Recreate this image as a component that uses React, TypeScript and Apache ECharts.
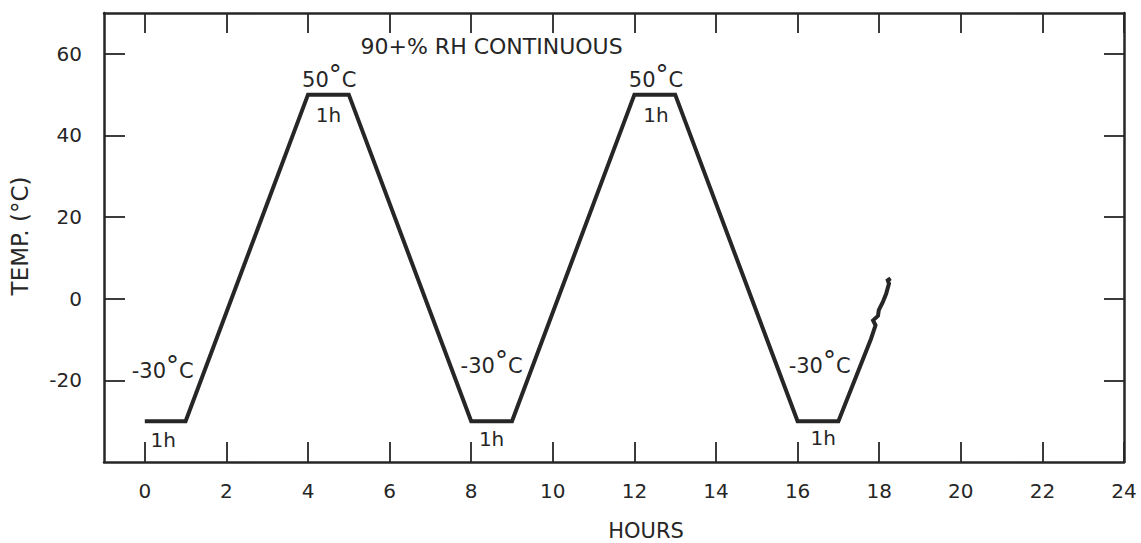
import React, { useEffect, useRef } from "react";
import * as echarts from "echarts";

const hours = [0, 1, 4, 5, 8, 9, 12, 13, 16, 17, 17.8, 17.91, 17.85, 17.97, 17.99, 18.09, 18.17, 18.24, 18.21, 18.28];
const temps = [-30, -30, 50, 50, -30, -30, 50, 50, -30, -30, -9.8, -6.5, -5.3, -4.2, -2.8, -0.8, 1.2, 3.7, 4.5, 5.0];

const xTicks = [0, 2, 4, 6, 8, 10, 12, 14, 16, 18, 20, 22, 24];
const yTicks = [-20, 0, 20, 40, 60];

const noteTexts = ["90+% RH CONTINUOUS", "50{d|°}C", "1h", "50{d|°}C", "1h", "-30{d|°}C", "1h", "-30{d|°}C", "1h", "-30{d|°}C", "1h"];
const noteSizes = [22, 21, 20, 21, 20, 21, 20, 21, 20, 21, 20];
const noteX = [8.5, 4.52, 4.5, 12.53, 12.53, 0.44, 0.45, 8.5, 8.5, 16.54, 16.63];
const noteY = [61.7, 53.7, 45.1, 53.7, 45.1, -17.6, -34.6, -16.6, -34.4, -16.6, -34.0];

const INK = "#262626";
const FONT = "DejaVu Sans";

export default function App() {
  const ref = useRef<HTMLDivElement>(null);
  useEffect(() => {
    if (!ref.current) return;
    const chart = echarts.init(ref.current, undefined, { renderer: "svg" });
    const axisLine = { show: true, onZero: false, lineStyle: { color: INK, width: 2.5 } };
    const tickStyle = { color: INK, width: 1.8 };
    chart.setOption({
      animation: false,
      backgroundColor: "#ffffff",
      grid: { left: 104, top: 13, right: 17, bottom: 81, containLabel: false },
      xAxis: [
        {
          type: "value",
          min: -1,
          max: 24,
          position: "bottom",
          axisLine,
          splitLine: { show: false },
          axisTick: { show: true, inside: true, length: 20, customValues: xTicks, lineStyle: tickStyle },
          axisLabel: { show: true, customValues: xTicks, margin: 19, color: INK, fontSize: 20, fontFamily: FONT },
        },
        {
          type: "value",
          min: -1,
          max: 24,
          position: "top",
          axisLine,
          splitLine: { show: false },
          axisTick: { show: true, inside: true, length: 20, customValues: xTicks, lineStyle: tickStyle },
          axisLabel: { show: false },
        },
      ],
      yAxis: [
        {
          type: "value",
          min: -40,
          max: 70,
          position: "left",
          axisLine,
          splitLine: { show: false },
          axisTick: { show: true, inside: true, length: 21, customValues: yTicks, lineStyle: tickStyle },
          axisLabel: { show: true, customValues: yTicks, margin: 22, color: INK, fontSize: 20, fontFamily: FONT },
        },
        {
          type: "value",
          min: -40,
          max: 70,
          position: "right",
          axisLine,
          splitLine: { show: false },
          axisTick: { show: true, inside: true, length: 20, customValues: yTicks, lineStyle: tickStyle },
          axisLabel: { show: false },
        },
      ],
      series: [
        {
          type: "line",
          data: hours.map((h, i) => [h, temps[i]]),
          showSymbol: false,
          symbol: "none",
          lineStyle: { color: INK, width: 4, join: "miter" },
          z: 3,
        },
        {
          type: "scatter",
          symbolSize: 0,
          silent: true,
          itemStyle: { opacity: 1 },
          data: noteX.map((x, i) => ({
            value: [x, noteY[i]],
            name: noteTexts[i],
            label: { fontSize: noteSizes[i] },
          })),
          label: {
            show: true,
            position: "inside",
            formatter: (p: any) => p.name,
            color: INK,
            opacity: 1,
            fontFamily: FONT,
            rich: { d: { fontSize: 26, color: INK, fontFamily: FONT, verticalAlign: "top", padding: [0, 0, 10, 0] } },
          },
          z: 4,
        },
      ],
      graphic: [
        {
          type: "text",
          x: 20,
          y: 236,
          rotation: Math.PI / 2,
          style: { text: "TEMP. (°C)", fill: INK, fontSize: 23, fontFamily: FONT, align: "center", verticalAlign: "middle" },
        },
        {
          type: "text",
          x: 646,
          y: 531,
          style: { text: "HOURS", fill: INK, fontSize: 21, fontFamily: FONT, align: "center", verticalAlign: "middle" },
        },
      ],
    });
    return () => chart.dispose();
  }, []);
  return <div ref={ref} style={{ position: "fixed", left: 0, top: 0, width: 1141, height: 543 }} />;
}
